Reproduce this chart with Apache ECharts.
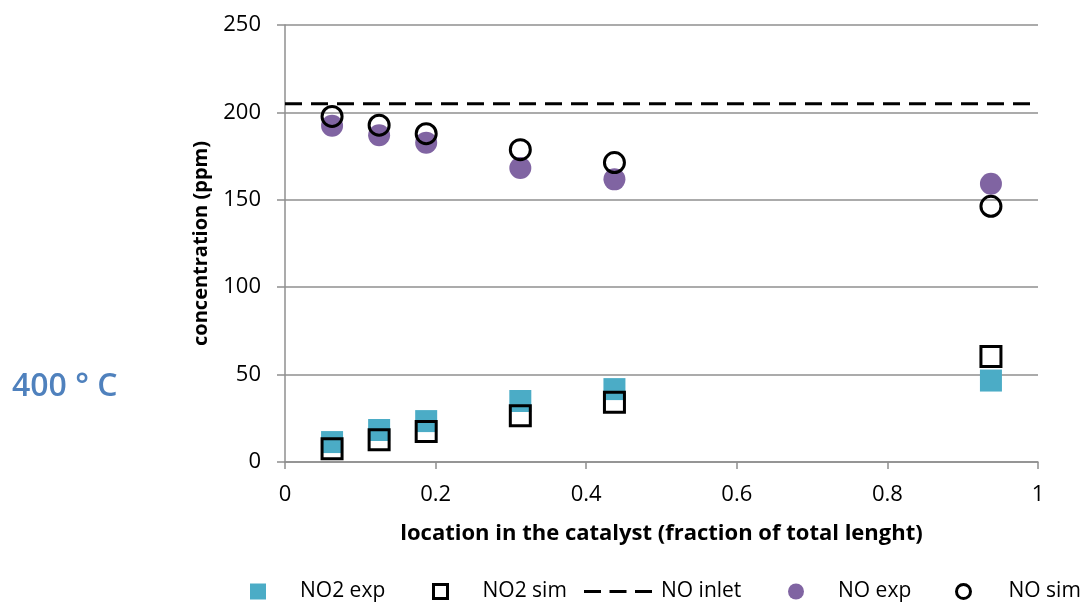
<!DOCTYPE html>
<html>
<head>
<meta charset="utf-8">
<script src="https://cdn.jsdelivr.net/npm/echarts@6/dist/echarts.min.js"></script>
<style>
  html, body { margin: 0; padding: 0; background: #fff; }
  #chart { width: 1081px; height: 604px; }
</style>
</head>
<body>
<div id="chart"></div>
<script>
// Sampling positions along the catalyst (fraction of total length)
const positions = [0.0625, 0.125, 0.1875, 0.3125, 0.4375, 0.9375];
// Concentrations in ppm
const no2Exp = [11.4, 18.3, 23.4, 34.9, 41.7, 46.6];
const no2Sim = [7.6, 12.8, 17.5, 26.4, 34.2, 60.3];
const noExp  = [192.4, 186.9, 182.7, 168.2, 161.7, 159.2];
const noSim  = [197.7, 192.7, 187.8, 178.7, 171.3, 146.3];
const noInlet = 205;
const inletSpan = [0, 1];
const yTicks = { min: 0, max: 250, step: 50 };
const xTicks = { min: 0, max: 1, step: 0.2 };
const temperatureLabel = '400 ° C';

const pair = (xs, ys) => xs.map((x, i) => [x, ys[i]]);

const FONT = '"Open Sans", "Noto Sans", sans-serif';
const TEAL = '#4BACC6';
const PURPLE = '#8064A2';
const GRID_GRAY = '#8f8f8f';

// three short dashes used as the legend key of the inlet line
const DASH_ICON = 'path://M0,0H17V3H0Z M25.5,0H42.5V3H25.5Z M51,0H68V3H51Z';

const chart = echarts.init(document.getElementById('chart'), null, { renderer: 'canvas' });

const legendText = (pad) => ({ fontFamily: FONT, fontSize: 21, color: '#000', padding: [0, 0, 0, pad] });
const legendBase = {
  orient: 'horizontal',
  top: 576,
  itemHeight: 16,
  itemWidth: 16,
  selectedMode: false
};

chart.setOption({
  animation: false,
  backgroundColor: '#fff',
  textStyle: { fontFamily: FONT },
  grid: { left: 285, right: 43, top: 25, bottom: 142, containLabel: false },
  xAxis: {
    type: 'value',
    min: xTicks.min, max: xTicks.max, interval: xTicks.step,
    name: 'location in the catalyst (fraction of total lenght)',
    nameLocation: 'middle',
    nameGap: 61,
    nameTextStyle: { fontFamily: FONT, fontSize: 22, fontWeight: 'bold', color: '#000' },
    axisLine: { show: true, lineStyle: { color: GRID_GRAY, width: 1.5 } },
    axisTick: { show: true, inside: false, length: 7, lineStyle: { color: GRID_GRAY, width: 1.5 } },
    axisLabel: { fontFamily: FONT, fontSize: 22, color: '#000', margin: 22 },
    splitLine: { show: false }
  },
  yAxis: {
    type: 'value',
    min: yTicks.min, max: yTicks.max, interval: yTicks.step,
    name: 'concentration (ppm)',
    nameLocation: 'middle',
    nameGap: 74,
    nameTextStyle: { fontFamily: FONT, fontSize: 20, fontWeight: 'bold', color: '#000' },
    axisLine: { show: true, lineStyle: { color: GRID_GRAY, width: 1.5 } },
    axisTick: { show: true, inside: false, length: 8, lineStyle: { color: GRID_GRAY, width: 1.5 } },
    axisLabel: { fontFamily: FONT, fontSize: 22, color: '#000', margin: 24 },
    splitLine: { show: true, lineStyle: { color: GRID_GRAY, width: 1.5 } }
  },
  legend: [
    Object.assign({}, legendBase, {
      left: 245, data: [{ name: 'NO2 exp', icon: 'rect' }],
      textStyle: legendText(29)
    }),
    Object.assign({}, legendBase, {
      left: 427, itemWidth: 14, itemHeight: 14,
      data: [{ name: 'NO2 sim', icon: 'rect', itemStyle: { color: 'transparent', borderColor: '#000', borderWidth: 3 } }],
      textStyle: legendText(30)
    }),
    Object.assign({}, legendBase, {
      left: 579, itemWidth: 68, itemHeight: 3,
      data: [{ name: 'NO inlet', icon: DASH_ICON, itemStyle: { color: '#000' } }],
      textStyle: legendText(4)
    }),
    Object.assign({}, legendBase, {
      left: 783, data: [{ name: 'NO exp', icon: 'circle' }],
      textStyle: legendText(29)
    }),
    Object.assign({}, legendBase, {
      left: 950, itemWidth: 14, itemHeight: 14,
      data: [{ name: 'NO sim', icon: 'circle', itemStyle: { color: 'transparent', borderColor: '#000', borderWidth: 3 } }],
      textStyle: legendText(33)
    })
  ],
  graphic: [{
    type: 'text',
    left: 12,
    top: 371,
    style: {
      text: temperatureLabel,
      fontFamily: FONT,
      fontSize: 32,
      fontWeight: 600,
      fill: '#4F81BD'
    }
  }],
  series: [
    {
      name: 'NO2 exp',
      type: 'scatter',
      symbol: 'rect',
      symbolSize: 22,
      itemStyle: { color: TEAL, opacity: 1 },
      data: pair(positions, no2Exp)
    },
    {
      name: 'NO2 sim',
      type: 'scatter',
      symbol: 'rect',
      symbolSize: 20,
      itemStyle: { color: 'transparent', borderColor: '#000', borderWidth: 3, opacity: 1 },
      data: pair(positions, no2Sim)
    },
    {
      name: 'NO inlet',
      type: 'line',
      symbol: 'none',
      showSymbol: false,
      lineStyle: { color: '#000', width: 3, type: [17, 9] },
      itemStyle: { color: '#000' },
      data: inletSpan.map(x => [x, noInlet])
    },
    {
      name: 'NO exp',
      type: 'scatter',
      symbol: 'circle',
      symbolSize: 22,
      itemStyle: { color: PURPLE, opacity: 1 },
      data: pair(positions, noExp)
    },
    {
      name: 'NO sim',
      type: 'scatter',
      symbol: 'circle',
      symbolSize: 20,
      itemStyle: { color: 'transparent', borderColor: '#000', borderWidth: 3, opacity: 1 },
      data: pair(positions, noSim)
    }
  ]
});
</script>
</body>
</html>
